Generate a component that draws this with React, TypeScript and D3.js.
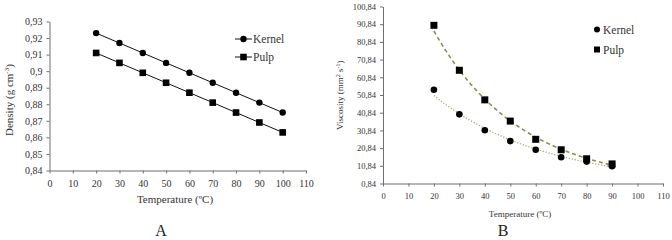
import React, { useEffect, useRef } from 'react';
import * as d3 from 'd3';

// temperature steps (ºC)
const densityTemps = [20, 30, 40, 50, 60, 70, 80, 90, 100];
const kernelDensity = [0.923, 0.917, 0.911, 0.905, 0.899, 0.893, 0.887, 0.881, 0.875];
const pulpDensity = [0.911, 0.905, 0.899, 0.893, 0.887, 0.881, 0.875, 0.869, 0.863];

const viscTemps = [20, 30, 40, 50, 60, 70, 80, 90];
const kernelViscosity = [53.8, 39.9, 30.9, 24.8, 19.9, 15.7, 13.2, 10.6];
const pulpViscosity = [90.2, 64.8, 48.1, 36.1, 25.8, 19.9, 14.8, 11.9];

const xTicks = [0, 10, 20, 30, 40, 50, 60, 70, 80, 90, 100, 110];
const densityTicks = [0.84, 0.85, 0.86, 0.87, 0.88, 0.89, 0.9, 0.91, 0.92, 0.93];
const viscTicks = [0.84, 10.84, 20.84, 30.84, 40.84, 50.84, 60.84, 70.84, 80.84, 90.84, 100.84];

const FONT = 'Liberation Serif';
const AXIS = '#6f6f6f';
const TEXT = '#333';

const commaFmt = (d: number) => String(+d.toFixed(2)).replace('.', ',');

// least-squares exponential fit y = a*e^(b*x), same as a spreadsheet trendline
function expFit(xs: number[], ys: number[]) {
  const ly = ys.map(Math.log);
  const mx = d3.mean(xs)!;
  const my = d3.mean(ly)!;
  const b = d3.sum(xs, (x, i) => (x - mx) * (ly[i] - my)) / d3.sum(xs, x => (x - mx) ** 2);
  const a = Math.exp(my - b * mx);
  return (x: number) => a * Math.exp(b * x);
}

const App = () => {
  const svgRef = useRef<SVGSVGElement>(null);

  useEffect(() => {
    const svg = d3.select(svgRef.current);
    svg.selectAll('*').remove();

    const drawAxes = (g: any, x: any, y: any, yTicks: number[], fontSize: number) => {
      const xa = g.append('g')
        .attr('transform', `translate(0,${y.range()[0]})`)
        .call(d3.axisBottom(x).tickValues(xTicks).tickFormat(d => String(d)).tickSize(3).tickSizeOuter(0).tickPadding(6));
      const ya = g.append('g')
        .attr('transform', `translate(${x.range()[0]},0)`)
        .call(d3.axisLeft(y).tickValues(yTicks).tickFormat(d => commaFmt(+d)).tickSize(3).tickSizeOuter(0).tickPadding(4));
      [xa, ya].forEach(a => {
        a.attr('font-family', FONT).attr('font-size', fontSize);
        a.select('.domain').attr('stroke', AXIS);
        a.selectAll('.tick line').attr('stroke', AXIS);
        a.selectAll('.tick text').attr('fill', TEXT);
      });
    };

    const label = (g: any, size: number) =>
      g.append('text').attr('font-family', FONT).attr('font-size', size).attr('fill', TEXT);

    // ---- A: density ----
    const ga = svg.append('g');
    const xA = d3.scaleLinear().domain([0, 110]).range([49.5, 306]);
    const yA = d3.scaleLinear().domain([0.84, 0.93]).range([170.5, 21.5]);

    const yla = label(ga, 11).attr('transform', 'translate(13,136) rotate(-90)');
    yla.append('tspan').text('Density (g cm');
    yla.append('tspan').attr('dy', -4).attr('font-size', 7).text('-3');
    yla.append('tspan').attr('dy', 4).text(')');
    label(ga, 11).attr('x', 175).attr('y', 203).attr('text-anchor', 'middle').text('Temperature (ºC)');
    label(ga, 16).attr('x', 161).attr('y', 236).attr('text-anchor', 'middle').attr('fill', '#222').text('A');

    // legend A
    ['Kernel', 'Pulp'].forEach((name, i) => {
      const ly = 39 + i * 18;
      ga.append('line').attr('x1', 235).attr('x2', 252).attr('y1', ly).attr('y2', ly).attr('stroke', '#111');
      if (i === 0) ga.append('circle').attr('cx', 243.5).attr('cy', ly).attr('r', 3.2).attr('fill', '#000');
      else ga.append('rect').attr('x', 240.2).attr('y', ly - 3.3).attr('width', 6.6).attr('height', 6.6).attr('fill', '#000');
      label(ga, 11.5).attr('x', 253).attr('y', ly + 4).text(name);
    });

    const lineA = d3.line<number>().x((_, i) => xA(densityTemps[i])).y(d => yA(d));
    [kernelDensity, pulpDensity].forEach((vals, s) => {
      ga.append('path').datum(vals).attr('d', lineA).attr('fill', 'none').attr('stroke', '#111').attr('stroke-width', 1);
      vals.forEach((v, i) => {
        const cx = xA(densityTemps[i]);
        const cy = yA(v);
        if (s === 0) ga.append('circle').attr('cx', cx).attr('cy', cy).attr('r', 3.2).attr('fill', '#000');
        else ga.append('rect').attr('x', cx - 3.3).attr('y', cy - 3.3).attr('width', 6.6).attr('height', 6.6).attr('fill', '#000');
      });
    });

    // ---- B: viscosity ----
    const gb = svg.append('g');
    const xB = d3.scaleLinear().domain([0, 110]).range([383, 663]);
    const yB = d3.scaleLinear().domain([0.84, 100.84]).range([183.5, 6.5]);

    label(gb, 9).attr('x', 520).attr('y', 217).attr('text-anchor', 'middle').text('Temperature (ºC)');
    const ylb = label(gb, 9).attr('transform', 'translate(343,130) rotate(-90)');
    ylb.append('tspan').text('Viscosity (mm');
    ylb.append('tspan').attr('dy', -3).attr('font-size', 6).text('2');
    ylb.append('tspan').attr('dy', 3).text(' s');
    ylb.append('tspan').attr('dy', -3).attr('font-size', 6).text('-1');
    ylb.append('tspan').attr('dy', 3).text(')');
    label(gb, 16).attr('x', 503).attr('y', 236).attr('text-anchor', 'middle').attr('fill', '#222').text('B');

    // legend B
    ['Kernel', 'Pulp'].forEach((name, i) => {
      const ly = 29.5 + i * 20;
      if (i === 0) gb.append('circle').attr('cx', 597).attr('cy', ly).attr('r', 3).attr('fill', '#000');
      else gb.append('rect').attr('x', 594).attr('y', ly - 3).attr('width', 6).attr('height', 6).attr('fill', '#000');
      label(gb, 11.5).attr('x', 603).attr('y', ly + 4).text(name);
    });

    const curve = d3.range(20, 90.01, 0.5);
    const trend = d3.line<number>().x(d => xB(d));
    const pulpFit = expFit(viscTemps, pulpViscosity);
    const kernelFit = expFit(viscTemps, kernelViscosity);
    gb.append('path').datum(curve).attr('d', trend.y(d => yB(kernelFit(d))))
      .attr('fill', 'none').attr('stroke', '#a6a56a').attr('stroke-width', 1.3).attr('stroke-dasharray', '1.2 1.8');
    gb.append('path').datum(curve).attr('d', trend.y(d => yB(pulpFit(d))))
      .attr('fill', 'none').attr('stroke', '#8f8c55').attr('stroke-width', 1.6).attr('stroke-dasharray', '4 3');

    kernelViscosity.forEach((v, i) => {
      gb.append('circle').attr('cx', xB(viscTemps[i])).attr('cy', yB(v)).attr('r', 3.3).attr('fill', '#000');
    });
    pulpViscosity.forEach((v, i) => {
      gb.append('rect').attr('x', xB(viscTemps[i]) - 3.5).attr('y', yB(v) - 3.5).attr('width', 7).attr('height', 7).attr('fill', '#000');
    });

    // axes last so nothing sits over the tick labels
    drawAxes(ga, xA, yA, densityTicks, 10);
    drawAxes(gb, xB, yB, viscTicks, 8.5);
  }, []);

  return (
    <svg ref={svgRef} width={672} height={240}
      style={{ position: 'absolute', left: 0, top: 0, background: '#fff' }} />
  );
};

export default App;
